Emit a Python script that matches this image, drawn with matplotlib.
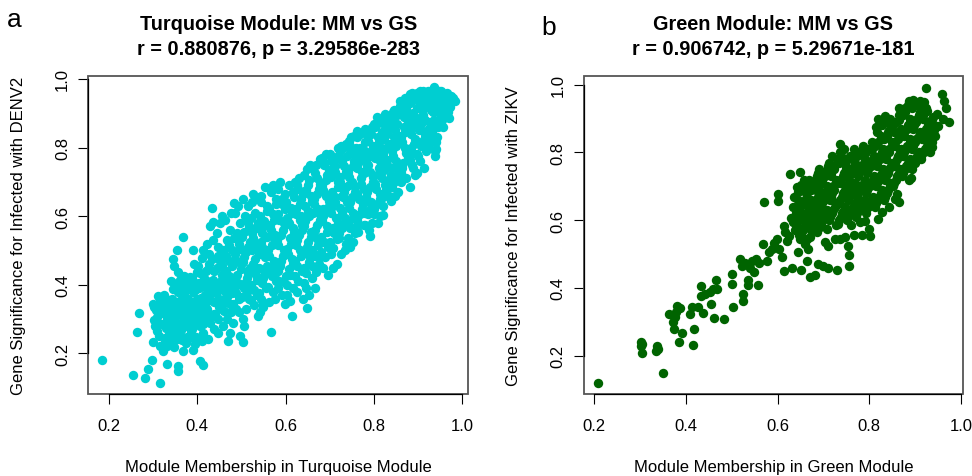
import matplotlib
matplotlib.use("Agg")
import matplotlib.pyplot as plt
from matplotlib.patches import Rectangle
import numpy as np

plt.rcParams['font.family'] = ['Liberation Sans', 'DejaVu Sans']

# module membership (x) vs gene significance (y)
turquoise_points = [
    (0.185, 0.182), (0.255, 0.138), (0.264, 0.262), (0.269, 0.318), (0.282, 0.128),
    (0.289, 0.155), (0.297, 0.182), (0.299, 0.234), (0.316, 0.114),
    (0.299, 0.344), (0.302, 0.334), (0.306, 0.327), (0.304, 0.281), (0.308, 0.305), (0.316, 0.359),
    (0.316, 0.222), (0.313, 0.252), (0.311, 0.290), (0.319, 0.338), (0.318, 0.317), (0.312, 0.367),
    (0.309, 0.265), (0.314, 0.345), (0.303, 0.298), (0.320, 0.285),
    (0.322, 0.334), (0.323, 0.208), (0.329, 0.360), (0.329, 0.273), (0.331, 0.169), (0.332, 0.222),
    (0.332, 0.302), (0.326, 0.245), (0.336, 0.330), (0.338, 0.287), (0.334, 0.352), (0.338, 0.238),
    (0.325, 0.370), (0.327, 0.318), (0.335, 0.262), (0.330, 0.345), (0.340, 0.315), (0.328, 0.232),
    (0.346, 0.388), (0.346, 0.475), (0.348, 0.456), (0.350, 0.310), (0.353, 0.290), (0.353, 0.242),
    (0.353, 0.349), (0.353, 0.500), (0.357, 0.164), (0.357, 0.148), (0.357, 0.378), (0.357, 0.436),
    (0.344, 0.335), (0.342, 0.270), (0.355, 0.265), (0.348, 0.220), (0.356, 0.320), (0.343, 0.360),
    (0.345, 0.298), (0.351, 0.328), (0.358, 0.345), (0.341, 0.410), (0.349, 0.255), (0.354, 0.405),
    (0.359, 0.285),
    (0.361, 0.330), (0.361, 0.252), (0.361, 0.397), (0.367, 0.206), (0.367, 0.540), (0.368, 0.276),
    (0.368, 0.359), (0.370, 0.426), (0.376, 0.388), (0.380, 0.281), (0.380, 0.339), (0.372, 0.300),
    (0.365, 0.310), (0.378, 0.360), (0.374, 0.230), (0.378, 0.405), (0.363, 0.355), (0.371, 0.375),
    (0.364, 0.268), (0.369, 0.290), (0.375, 0.320), (0.362, 0.415), (0.377, 0.248), (0.373, 0.345),
    (0.366, 0.240), (0.379, 0.300),
    (0.383, 0.422), (0.390, 0.210), (0.391, 0.378), (0.391, 0.502), (0.395, 0.227), (0.397, 0.247),
    (0.399, 0.436), (0.386, 0.320), (0.388, 0.295), (0.392, 0.350), (0.385, 0.265), (0.396, 0.405),
    (0.398, 0.330), (0.384, 0.395), (0.393, 0.460), (0.389, 0.270), (0.382, 0.350), (0.387, 0.308),
    (0.394, 0.285), (0.399, 0.360), (0.381, 0.245), (0.395, 0.312), (0.388, 0.420), (0.394, 0.385),
    (0.406, 0.179), (0.414, 0.167), (0.410, 0.477), (0.402, 0.456), (0.404, 0.300), (0.408, 0.345),
    (0.412, 0.260), (0.405, 0.390), (0.416, 0.420), (0.418, 0.370), (0.402, 0.320), (0.415, 0.310),
    (0.410, 0.235), (0.419, 0.440), (0.407, 0.280), (0.413, 0.500), (0.401, 0.345), (0.409, 0.362),
    (0.414, 0.285), (0.403, 0.405), (0.411, 0.325), (0.417, 0.395), (0.406, 0.435), (0.420, 0.350),
    (0.421, 0.520), (0.425, 0.242), (0.434, 0.624), (0.436, 0.582), (0.430, 0.570), (0.422, 0.330),
    (0.428, 0.290), (0.426, 0.460), (0.433, 0.400), (0.438, 0.350), (0.424, 0.380), (0.431, 0.310),
    (0.437, 0.270), (0.439, 0.440), (0.427, 0.490), (0.435, 0.530), (0.423, 0.410), (0.440, 0.380),
    (0.421, 0.300), (0.429, 0.355), (0.436, 0.415), (0.425, 0.445), (0.432, 0.375), (0.438, 0.315),
    (0.422, 0.360), (0.433, 0.475),
    (0.444, 0.550), (0.448, 0.510), (0.452, 0.470), (0.456, 0.430), (0.443, 0.400), (0.449, 0.360),
    (0.455, 0.330), (0.446, 0.300), (0.458, 0.280), (0.452, 0.390), (0.445, 0.450), (0.459, 0.500),
    (0.451, 0.580), (0.457, 0.600), (0.447, 0.260), (0.460, 0.360), (0.441, 0.315), (0.449, 0.335),
    (0.454, 0.410), (0.443, 0.375), (0.457, 0.455), (0.448, 0.485), (0.453, 0.345), (0.459, 0.385),
    (0.470, 0.236), (0.474, 0.260), (0.467, 0.300), (0.476, 0.320), (0.463, 0.350), (0.472, 0.380),
    (0.478, 0.410), (0.465, 0.440), (0.471, 0.470), (0.479, 0.500), (0.468, 0.530), (0.474, 0.560),
    (0.462, 0.590), (0.477, 0.610), (0.483, 0.638), (0.469, 0.400), (0.475, 0.345), (0.461, 0.325),
    (0.468, 0.365), (0.473, 0.425), (0.479, 0.455), (0.466, 0.485), (0.472, 0.515), (0.478, 0.375),
    (0.464, 0.410),
    (0.504, 0.234), (0.496, 0.250), (0.482, 0.290), (0.488, 0.330), (0.495, 0.360), (0.484, 0.390),
    (0.491, 0.430), (0.498, 0.460), (0.486, 0.490), (0.494, 0.520), (0.489, 0.550), (0.497, 0.580),
    (0.485, 0.610), (0.492, 0.630), (0.499, 0.400), (0.482, 0.460), (0.481, 0.345), (0.487, 0.375),
    (0.493, 0.405), (0.499, 0.445), (0.485, 0.475), (0.496, 0.505), (0.483, 0.535), (0.494, 0.320),
    (0.503, 0.300), (0.511, 0.330), (0.517, 0.360), (0.505, 0.390), (0.513, 0.420), (0.519, 0.450),
    (0.507, 0.480), (0.514, 0.510), (0.502, 0.540), (0.518, 0.570), (0.509, 0.600), (0.515, 0.630),
    (0.504, 0.650), (0.512, 0.380), (0.506, 0.280), (0.501, 0.365), (0.508, 0.405), (0.516, 0.435),
    (0.503, 0.465), (0.511, 0.495), (0.519, 0.525), (0.506, 0.555), (0.514, 0.585),
    (0.527, 0.665), (0.523, 0.640), (0.531, 0.610), (0.538, 0.580), (0.525, 0.550), (0.533, 0.520),
    (0.539, 0.490), (0.526, 0.460), (0.534, 0.430), (0.522, 0.400), (0.536, 0.370), (0.529, 0.340),
    (0.537, 0.310), (0.524, 0.500), (0.532, 0.655), (0.521, 0.355), (0.528, 0.385), (0.535, 0.415),
    (0.524, 0.445), (0.531, 0.475), (0.538, 0.505), (0.527, 0.535), (0.534, 0.565), (0.522, 0.595),
    (0.542, 0.320), (0.548, 0.334), (0.553, 0.684), (0.545, 0.660), (0.557, 0.630), (0.543, 0.600),
    (0.551, 0.570), (0.558, 0.540), (0.546, 0.510), (0.554, 0.480), (0.541, 0.450), (0.549, 0.420),
    (0.556, 0.390), (0.544, 0.360), (0.559, 0.455), (0.547, 0.550), (0.541, 0.375), (0.547, 0.405),
    (0.553, 0.435), (0.559, 0.495), (0.545, 0.525), (0.552, 0.585), (0.558, 0.615), (0.544, 0.640),
    (0.550, 0.345),
    (0.567, 0.261), (0.563, 0.350), (0.571, 0.380), (0.578, 0.410), (0.565, 0.440), (0.573, 0.470),
    (0.561, 0.500), (0.576, 0.530), (0.568, 0.560), (0.574, 0.590), (0.562, 0.620), (0.579, 0.650),
    (0.566, 0.670), (0.572, 0.690), (0.577, 0.360), (0.561, 0.395), (0.569, 0.425), (0.575, 0.455),
    (0.563, 0.485), (0.570, 0.515), (0.577, 0.545), (0.564, 0.575), (0.571, 0.605), (0.578, 0.635),
    (0.587, 0.700), (0.583, 0.680), (0.591, 0.650), (0.598, 0.620), (0.585, 0.590), (0.594, 0.560),
    (0.581, 0.530), (0.597, 0.500), (0.589, 0.470), (0.582, 0.440), (0.595, 0.410), (0.587, 0.407),
    (0.599, 0.344), (0.592, 0.370), (0.584, 0.390), (0.596, 0.580), (0.581, 0.415), (0.588, 0.455),
    (0.594, 0.485), (0.583, 0.515), (0.590, 0.545), (0.598, 0.575), (0.584, 0.605), (0.592, 0.635),
    (0.599, 0.665),
    (0.610, 0.354), (0.614, 0.310), (0.603, 0.400), (0.611, 0.430), (0.618, 0.460), (0.605, 0.490),
    (0.613, 0.520), (0.619, 0.550), (0.607, 0.580), (0.615, 0.610), (0.602, 0.640), (0.617, 0.670),
    (0.609, 0.690), (0.604, 0.370), (0.616, 0.390), (0.601, 0.425), (0.608, 0.445), (0.614, 0.475),
    (0.603, 0.505), (0.611, 0.535), (0.617, 0.565), (0.604, 0.595), (0.612, 0.625), (0.619, 0.655),
    (0.622, 0.700), (0.628, 0.680), (0.635, 0.650), (0.624, 0.620), (0.632, 0.590), (0.638, 0.560),
    (0.626, 0.530), (0.633, 0.500), (0.621, 0.470), (0.637, 0.440), (0.629, 0.410), (0.625, 0.380),
    (0.639, 0.360), (0.631, 0.710), (0.636, 0.600), (0.621, 0.425), (0.627, 0.455), (0.634, 0.485),
    (0.623, 0.515), (0.630, 0.545), (0.637, 0.575), (0.624, 0.605), (0.632, 0.635), (0.639, 0.665),
    (0.626, 0.690),
    (0.648, 0.333), (0.648, 0.738), (0.643, 0.720), (0.652, 0.690), (0.658, 0.660), (0.645, 0.630),
    (0.654, 0.600), (0.641, 0.570), (0.657, 0.540), (0.649, 0.510), (0.655, 0.480), (0.642, 0.450),
    (0.659, 0.420), (0.646, 0.390), (0.653, 0.370), (0.656, 0.750), (0.641, 0.405), (0.647, 0.435),
    (0.654, 0.465), (0.643, 0.495), (0.651, 0.525), (0.658, 0.555), (0.644, 0.585), (0.652, 0.615),
    (0.659, 0.645), (0.646, 0.675), (0.654, 0.705),
    (0.670, 0.436), (0.667, 0.392), (0.678, 0.480), (0.678, 0.767), (0.662, 0.740), (0.671, 0.710),
    (0.677, 0.680), (0.664, 0.650), (0.673, 0.620), (0.679, 0.590), (0.666, 0.560), (0.674, 0.530),
    (0.661, 0.500), (0.676, 0.460), (0.669, 0.750), (0.663, 0.610), (0.661, 0.455), (0.667, 0.485),
    (0.674, 0.515), (0.663, 0.545), (0.671, 0.575), (0.678, 0.605), (0.664, 0.635), (0.672, 0.665),
    (0.679, 0.695), (0.666, 0.725),
    (0.683, 0.770), (0.688, 0.750), (0.695, 0.720), (0.682, 0.690), (0.691, 0.660), (0.698, 0.630),
    (0.685, 0.600), (0.693, 0.570), (0.681, 0.540), (0.697, 0.510), (0.689, 0.480), (0.684, 0.450),
    (0.696, 0.430), (0.692, 0.780), (0.686, 0.620), (0.681, 0.495), (0.687, 0.525), (0.694, 0.555),
    (0.683, 0.585), (0.691, 0.615), (0.698, 0.645), (0.684, 0.675), (0.692, 0.705), (0.699, 0.735),
    (0.686, 0.760),
    (0.701, 0.781), (0.716, 0.460), (0.708, 0.506), (0.716, 0.533), (0.720, 0.800), (0.704, 0.760),
    (0.711, 0.730), (0.718, 0.700), (0.706, 0.670), (0.713, 0.640), (0.702, 0.610), (0.719, 0.580),
    (0.709, 0.550), (0.703, 0.490), (0.714, 0.770), (0.707, 0.450), (0.701, 0.525), (0.707, 0.565),
    (0.714, 0.595), (0.703, 0.625), (0.711, 0.655), (0.718, 0.685), (0.704, 0.715), (0.712, 0.745),
    (0.719, 0.775),
    (0.738, 0.810), (0.723, 0.790), (0.729, 0.760), (0.736, 0.730), (0.724, 0.700), (0.733, 0.670),
    (0.739, 0.640), (0.727, 0.610), (0.734, 0.580), (0.721, 0.550), (0.737, 0.520), (0.726, 0.490),
    (0.731, 0.800), (0.728, 0.660), (0.735, 0.500), (0.721, 0.535), (0.727, 0.565), (0.734, 0.595),
    (0.723, 0.625), (0.731, 0.655), (0.738, 0.685), (0.724, 0.715), (0.732, 0.745), (0.739, 0.775),
    (0.726, 0.805),
    (0.746, 0.509), (0.753, 0.524), (0.761, 0.849), (0.743, 0.820), (0.749, 0.790), (0.756, 0.760),
    (0.742, 0.730), (0.751, 0.700), (0.758, 0.670), (0.745, 0.640), (0.754, 0.610), (0.741, 0.580),
    (0.757, 0.550), (0.748, 0.830), (0.744, 0.690), (0.759, 0.800), (0.741, 0.535), (0.747, 0.565),
    (0.754, 0.595), (0.743, 0.625), (0.751, 0.655), (0.758, 0.685), (0.744, 0.715), (0.752, 0.745),
    (0.759, 0.775), (0.746, 0.805), (0.755, 0.835),
    (0.765, 0.555), (0.780, 0.854), (0.763, 0.830), (0.769, 0.800), (0.776, 0.770), (0.762, 0.740),
    (0.771, 0.710), (0.778, 0.680), (0.766, 0.650), (0.774, 0.620), (0.761, 0.590), (0.777, 0.575),
    (0.768, 0.840), (0.773, 0.730), (0.779, 0.790), (0.763, 0.575), (0.769, 0.605), (0.776, 0.635),
    (0.763, 0.665), (0.771, 0.695), (0.777, 0.725), (0.764, 0.755), (0.772, 0.785), (0.779, 0.815),
    (0.766, 0.840),
    (0.791, 0.543), (0.800, 0.869), (0.783, 0.850), (0.788, 0.820), (0.795, 0.790), (0.782, 0.760),
    (0.791, 0.730), (0.798, 0.700), (0.785, 0.670), (0.793, 0.640), (0.781, 0.610), (0.797, 0.580),
    (0.789, 0.560), (0.794, 0.840), (0.786, 0.750), (0.781, 0.575), (0.787, 0.605), (0.794, 0.625),
    (0.783, 0.655), (0.791, 0.685), (0.798, 0.715), (0.784, 0.745), (0.792, 0.775), (0.799, 0.805),
    (0.786, 0.835), (0.795, 0.860),
    (0.814, 0.600), (0.803, 0.860), (0.809, 0.830), (0.816, 0.800), (0.802, 0.770), (0.811, 0.740),
    (0.818, 0.710), (0.805, 0.680), (0.813, 0.650), (0.801, 0.620), (0.819, 0.880), (0.807, 0.890),
    (0.815, 0.760), (0.810, 0.580), (0.801, 0.605), (0.807, 0.635), (0.814, 0.665), (0.803, 0.695),
    (0.811, 0.725), (0.818, 0.755), (0.804, 0.785), (0.812, 0.815), (0.819, 0.845), (0.806, 0.865),
    (0.825, 0.898), (0.820, 0.603), (0.840, 0.645), (0.823, 0.870), (0.829, 0.840), (0.836, 0.810),
    (0.822, 0.780), (0.831, 0.750), (0.838, 0.720), (0.826, 0.690), (0.834, 0.660), (0.821, 0.630),
    (0.837, 0.890), (0.828, 0.800), (0.833, 0.865), (0.821, 0.655), (0.827, 0.675), (0.834, 0.705),
    (0.823, 0.735), (0.831, 0.765), (0.838, 0.795), (0.824, 0.825), (0.832, 0.855), (0.839, 0.875),
    (0.826, 0.885),
    (0.844, 0.903), (0.859, 0.937), (0.843, 0.880), (0.849, 0.850), (0.856, 0.820), (0.842, 0.790),
    (0.851, 0.760), (0.858, 0.730), (0.845, 0.700), (0.854, 0.670), (0.848, 0.660), (0.857, 0.910),
    (0.846, 0.830), (0.853, 0.870), (0.841, 0.740), (0.841, 0.685), (0.847, 0.715), (0.854, 0.745),
    (0.843, 0.775), (0.851, 0.805), (0.858, 0.835), (0.844, 0.865), (0.852, 0.895), (0.859, 0.920),
    (0.846, 0.910),
    (0.882, 0.956), (0.882, 0.686), (0.871, 0.944), (0.863, 0.920), (0.869, 0.890), (0.876, 0.860),
    (0.862, 0.830), (0.871, 0.800), (0.878, 0.770), (0.865, 0.740), (0.874, 0.710), (0.861, 0.700),
    (0.877, 0.900), (0.868, 0.860), (0.873, 0.930), (0.861, 0.725), (0.867, 0.755), (0.874, 0.785),
    (0.863, 0.815), (0.871, 0.845), (0.878, 0.875), (0.864, 0.905), (0.872, 0.915), (0.879, 0.940),
    (0.866, 0.930),
    (0.897, 0.726), (0.904, 0.966), (0.883, 0.930), (0.889, 0.900), (0.896, 0.870), (0.884, 0.840),
    (0.891, 0.810), (0.898, 0.780), (0.886, 0.750), (0.893, 0.720), (0.887, 0.960), (0.899, 0.940),
    (0.885, 0.800), (0.894, 0.890), (0.881, 0.765), (0.887, 0.785), (0.894, 0.825), (0.883, 0.855),
    (0.891, 0.885), (0.898, 0.915), (0.884, 0.945), (0.892, 0.950), (0.899, 0.960), (0.889, 0.740),
    (0.912, 0.964), (0.903, 0.940), (0.909, 0.910), (0.916, 0.880), (0.902, 0.850), (0.911, 0.820),
    (0.918, 0.790), (0.905, 0.760), (0.913, 0.740), (0.919, 0.930), (0.907, 0.870), (0.915, 0.830),
    (0.901, 0.775), (0.907, 0.805), (0.914, 0.845), (0.903, 0.875), (0.911, 0.895), (0.918, 0.955),
    (0.904, 0.920), (0.912, 0.945), (0.919, 0.810),
    (0.924, 0.966), (0.937, 0.976), (0.938, 0.775), (0.923, 0.940), (0.929, 0.910), (0.936, 0.880),
    (0.922, 0.850), (0.931, 0.820), (0.938, 0.790), (0.926, 0.800), (0.934, 0.930), (0.928, 0.860),
    (0.921, 0.835), (0.927, 0.875), (0.934, 0.905), (0.923, 0.925), (0.931, 0.955), (0.938, 0.945),
    (0.924, 0.810), (0.932, 0.845), (0.939, 0.865),
    (0.942, 0.796), (0.946, 0.859), (0.950, 0.898), (0.948, 0.966), (0.961, 0.953), (0.943, 0.830),
    (0.955, 0.880), (0.944, 0.920), (0.952, 0.940), (0.958, 0.860), (0.947, 0.950), (0.941, 0.815),
    (0.947, 0.875), (0.954, 0.905), (0.943, 0.935), (0.951, 0.925), (0.957, 0.945), (0.944, 0.960),
    (0.953, 0.965),
    (0.965, 0.946), (0.972, 0.917), (0.984, 0.937), (0.975, 0.950), (0.968, 0.925), (0.963, 0.900),
    (0.970, 0.885), (0.973, 0.935), (0.979, 0.945), (0.966, 0.960), (0.962, 0.915), (0.968, 0.905),
]

green_points = [
    (0.208, 0.119), (0.351, 0.149), (0.303, 0.240), (0.301, 0.228), (0.305, 0.235), (0.305, 0.207),
    (0.336, 0.230), (0.338, 0.220), (0.335, 0.215), (0.385, 0.241), (0.416, 0.231), (0.418, 0.279),
    (0.362, 0.323), (0.372, 0.300), (0.373, 0.280), (0.376, 0.313), (0.380, 0.347), (0.387, 0.342),
    (0.378, 0.330), (0.392, 0.267), (0.409, 0.323), (0.413, 0.343), (0.427, 0.345), (0.437, 0.326),
    (0.454, 0.352), (0.433, 0.406), (0.433, 0.377), (0.442, 0.382), (0.453, 0.387), (0.460, 0.397),
    (0.466, 0.424), (0.467, 0.397), (0.461, 0.310), (0.483, 0.308), (0.502, 0.343), (0.500, 0.441),
    (0.501, 0.411), (0.524, 0.362), (0.525, 0.382), (0.518, 0.485), (0.522, 0.466), (0.529, 0.475),
    (0.535, 0.424), (0.536, 0.410), (0.540, 0.460), (0.544, 0.480), (0.549, 0.446), (0.554, 0.485),
    (0.560, 0.474), (0.558, 0.410), (0.568, 0.530), (0.571, 0.653), (0.576, 0.480), (0.581, 0.505),
    (0.587, 0.514), (0.592, 0.534), (0.598, 0.544), (0.604, 0.514), (0.609, 0.490), (0.600, 0.677),
    (0.602, 0.657), (0.613, 0.584), (0.616, 0.564), (0.620, 0.540), (0.624, 0.553), (0.627, 0.736),
    (0.629, 0.608), (0.615, 0.449), (0.631, 0.458),
    (0.633, 0.595), (0.637, 0.570), (0.642, 0.697), (0.645, 0.682), (0.648, 0.643), (0.641, 0.620),
    (0.646, 0.555), (0.649, 0.741), (0.638, 0.610), (0.644, 0.660), (0.634, 0.640), (0.640, 0.585),
    (0.647, 0.600), (0.636, 0.670),
    (0.649, 0.544), (0.660, 0.530), (0.667, 0.515), (0.645, 0.505),
    (0.652, 0.560), (0.657, 0.580), (0.661, 0.600), (0.654, 0.620), (0.666, 0.640), (0.659, 0.660),
    (0.663, 0.680), (0.655, 0.700), (0.668, 0.720), (0.651, 0.705), (0.664, 0.545), (0.669, 0.610),
    (0.655, 0.570), (0.661, 0.590), (0.668, 0.630), (0.657, 0.650), (0.664, 0.670), (0.652, 0.690),
    (0.669, 0.700), (0.658, 0.720),
    (0.672, 0.570), (0.678, 0.590), (0.684, 0.610), (0.675, 0.630), (0.681, 0.650), (0.688, 0.670),
    (0.673, 0.690), (0.679, 0.710), (0.686, 0.730), (0.685, 0.566), (0.671, 0.550), (0.683, 0.690),
    (0.674, 0.580), (0.681, 0.600), (0.688, 0.620), (0.676, 0.640), (0.683, 0.660), (0.690, 0.700),
    (0.677, 0.700), (0.684, 0.720), (0.689, 0.740), (0.672, 0.660),
    (0.651, 0.453), (0.664, 0.480), (0.671, 0.431), (0.682, 0.438), (0.689, 0.471), (0.700, 0.464),
    (0.711, 0.458), (0.729, 0.453), (0.704, 0.536), (0.711, 0.524),
    (0.725, 0.544), (0.736, 0.544), (0.747, 0.549), (0.766, 0.556), (0.784, 0.556), (0.802, 0.554),
    (0.753, 0.524), (0.757, 0.497), (0.757, 0.466),
    (0.692, 0.580), (0.698, 0.600), (0.705, 0.620), (0.694, 0.640), (0.701, 0.660), (0.708, 0.700),
    (0.696, 0.720), (0.703, 0.740), (0.709, 0.760), (0.691, 0.750), (0.707, 0.575), (0.699, 0.680),
    (0.694, 0.590), (0.701, 0.610), (0.708, 0.630), (0.696, 0.650), (0.703, 0.670), (0.710, 0.690),
    (0.697, 0.710), (0.704, 0.730), (0.709, 0.750), (0.693, 0.630),
    (0.712, 0.600), (0.718, 0.620), (0.725, 0.640), (0.714, 0.660), (0.721, 0.700), (0.728, 0.720),
    (0.716, 0.740), (0.723, 0.760), (0.729, 0.780), (0.713, 0.770), (0.727, 0.585), (0.719, 0.680),
    (0.714, 0.610), (0.721, 0.630), (0.728, 0.650), (0.716, 0.670), (0.723, 0.690), (0.730, 0.710),
    (0.717, 0.730), (0.724, 0.750), (0.730, 0.770), (0.719, 0.790),
    (0.732, 0.590), (0.738, 0.610), (0.745, 0.630), (0.734, 0.650), (0.741, 0.670), (0.748, 0.690),
    (0.736, 0.710), (0.743, 0.730), (0.749, 0.750), (0.733, 0.770), (0.736, 0.800), (0.736, 0.825),
    (0.744, 0.780), (0.734, 0.600), (0.741, 0.620), (0.748, 0.640), (0.736, 0.660), (0.743, 0.680),
    (0.750, 0.700), (0.737, 0.720), (0.744, 0.740), (0.750, 0.760), (0.739, 0.790), (0.746, 0.810),
    (0.752, 0.600), (0.758, 0.620), (0.765, 0.640), (0.754, 0.660), (0.761, 0.680), (0.768, 0.700),
    (0.756, 0.720), (0.763, 0.740), (0.769, 0.760), (0.753, 0.780), (0.766, 0.790), (0.760, 0.585),
    (0.754, 0.610), (0.761, 0.630), (0.768, 0.650), (0.756, 0.670), (0.763, 0.690), (0.770, 0.710),
    (0.757, 0.730), (0.764, 0.750), (0.770, 0.770), (0.759, 0.790), (0.766, 0.810),
    (0.772, 0.610), (0.778, 0.630), (0.785, 0.650), (0.774, 0.670), (0.781, 0.690), (0.788, 0.710),
    (0.776, 0.730), (0.783, 0.750), (0.789, 0.770), (0.773, 0.790), (0.786, 0.800), (0.779, 0.595),
    (0.774, 0.620), (0.781, 0.640), (0.788, 0.660), (0.776, 0.680), (0.783, 0.700), (0.790, 0.720),
    (0.777, 0.740), (0.784, 0.760), (0.790, 0.780), (0.779, 0.800), (0.786, 0.820),
    (0.791, 0.598), (0.792, 0.620), (0.798, 0.640), (0.805, 0.660), (0.794, 0.680), (0.801, 0.700),
    (0.808, 0.720), (0.796, 0.740), (0.803, 0.760), (0.809, 0.780), (0.793, 0.800), (0.806, 0.810),
    (0.800, 0.575), (0.794, 0.630), (0.801, 0.650), (0.808, 0.670), (0.796, 0.690), (0.803, 0.710),
    (0.810, 0.730), (0.797, 0.750), (0.804, 0.770), (0.810, 0.790), (0.799, 0.810), (0.806, 0.830),
    (0.820, 0.603), (0.827, 0.623), (0.812, 0.640), (0.818, 0.660), (0.825, 0.680), (0.814, 0.700),
    (0.821, 0.720), (0.828, 0.740), (0.816, 0.760), (0.823, 0.780), (0.829, 0.800), (0.813, 0.820),
    (0.820, 0.899), (0.826, 0.840), (0.817, 0.860), (0.814, 0.650), (0.821, 0.670), (0.828, 0.690),
    (0.816, 0.710), (0.823, 0.730), (0.830, 0.750), (0.817, 0.770), (0.824, 0.790), (0.830, 0.810),
    (0.819, 0.830), (0.826, 0.850), (0.815, 0.875), (0.828, 0.880),
    (0.835, 0.908), (0.846, 0.900), (0.832, 0.660), (0.838, 0.680), (0.845, 0.700), (0.834, 0.720),
    (0.841, 0.740), (0.848, 0.760), (0.836, 0.780), (0.843, 0.800), (0.849, 0.820), (0.833, 0.840),
    (0.840, 0.860), (0.847, 0.880), (0.844, 0.640), (0.834, 0.670), (0.841, 0.690), (0.848, 0.710),
    (0.836, 0.730), (0.843, 0.750), (0.850, 0.770), (0.837, 0.790), (0.844, 0.810), (0.850, 0.830),
    (0.839, 0.850), (0.846, 0.870), (0.833, 0.890),
    (0.860, 0.677), (0.856, 0.662), (0.864, 0.653), (0.864, 0.930), (0.852, 0.700), (0.858, 0.720),
    (0.865, 0.740), (0.854, 0.760), (0.861, 0.780), (0.868, 0.800), (0.856, 0.820), (0.863, 0.840),
    (0.869, 0.860), (0.853, 0.880), (0.866, 0.895), (0.854, 0.710), (0.861, 0.730), (0.868, 0.750),
    (0.856, 0.770), (0.863, 0.790), (0.870, 0.810), (0.857, 0.830), (0.864, 0.850), (0.870, 0.870),
    (0.859, 0.890), (0.866, 0.910), (0.855, 0.860),
    (0.886, 0.953), (0.872, 0.730), (0.878, 0.750), (0.885, 0.770), (0.874, 0.790), (0.881, 0.810),
    (0.888, 0.830), (0.876, 0.850), (0.883, 0.870), (0.889, 0.890), (0.873, 0.910), (0.879, 0.930),
    (0.887, 0.720), (0.874, 0.740), (0.881, 0.760), (0.888, 0.780), (0.876, 0.800), (0.883, 0.820),
    (0.890, 0.840), (0.877, 0.860), (0.884, 0.880), (0.890, 0.900), (0.879, 0.920), (0.885, 0.940),
    (0.891, 0.726), (0.896, 0.956), (0.893, 0.750), (0.899, 0.770), (0.905, 0.790), (0.894, 0.810),
    (0.901, 0.830), (0.908, 0.850), (0.896, 0.870), (0.903, 0.890), (0.909, 0.910), (0.893, 0.930),
    (0.906, 0.940), (0.894, 0.760), (0.901, 0.780), (0.908, 0.800), (0.896, 0.820), (0.903, 0.840),
    (0.910, 0.860), (0.897, 0.880), (0.904, 0.900), (0.910, 0.920), (0.899, 0.945),
    (0.911, 0.953), (0.918, 0.943), (0.927, 0.923), (0.924, 0.990), (0.913, 0.780), (0.919, 0.800),
    (0.926, 0.820), (0.915, 0.840), (0.922, 0.860), (0.929, 0.880), (0.917, 0.900), (0.929, 0.825),
    (0.914, 0.920), (0.914, 0.790), (0.921, 0.810), (0.928, 0.840), (0.916, 0.850), (0.923, 0.870),
    (0.930, 0.890), (0.917, 0.910), (0.924, 0.930), (0.920, 0.950),
    (0.933, 0.840), (0.937, 0.815), (0.947, 0.913), (0.951, 0.879), (0.935, 0.860), (0.941, 0.880),
    (0.944, 0.850), (0.938, 0.900), (0.932, 0.800), (0.936, 0.830), (0.942, 0.865), (0.934, 0.880),
    (0.940, 0.905),
    (0.958, 0.972), (0.963, 0.953), (0.968, 0.930), (0.975, 0.891), (0.960, 0.900),
]

turq_mm, turq_gs = np.array(turquoise_points).T
green_mm, green_gs = np.array(green_points).T

ticks = [0.2, 0.4, 0.6, 0.8, 1.0]
tick_labels = ["0.2", "0.4", "0.6", "0.8", "1.0"]


def draw_panel(ax, mm, gs, color, xlim, ylim, title, stats, xlabel, ylabel):
    ax.scatter(mm, gs, s=46, c=color, linewidths=0, zorder=1)
    ax.set_xlim(xlim)
    ax.set_ylim(ylim)
    ax.set_xticks(ticks)
    ax.set_xticklabels(tick_labels)
    ax.set_yticks(ticks)
    ax.set_yticklabels(tick_labels, rotation=90, va="center")

    ax.spines["top"].set_visible(False)
    ax.spines["right"].set_visible(False)
    for side in ["left", "bottom"]:
        ax.spines[side].set_bounds(0.2, 1.0)
        ax.spines[side].set_color("black")
        ax.spines[side].set_linewidth(0.9)
        ax.spines[side].set_zorder(4)
    box = Rectangle((0, 0), 1, 1, transform=ax.transAxes, fill=False,
                    edgecolor="#555555", linewidth=1.3, clip_on=False, zorder=3)
    ax.add_patch(box)

    ax.tick_params(direction="out", length=7.2, width=0.8, labelsize=12)
    ax.tick_params(axis="x", pad=10)
    ax.tick_params(axis="y", pad=6)

    ax.set_xlabel(xlabel, fontsize=12)
    ax.set_ylabel(ylabel, fontsize=12)
    ax.xaxis.set_label_coords(0.5, -0.205)
    ax.yaxis.set_label_coords(-0.165, 0.5)

    ax.text(0.5, 1.147, title, transform=ax.transAxes, ha="center", va="baseline",
            fontsize=14.3, fontweight="bold")
    ax.text(0.5, 1.068, stats, transform=ax.transAxes, ha="center", va="baseline",
            fontsize=14.3, fontweight="bold")


fig = plt.figure(figsize=(9.72, 4.77), dpi=100)
ax_a = fig.add_axes([0.0908, 0.1719, 0.3909, 0.6673])
ax_b = fig.add_axes([0.6008, 0.1719, 0.3896, 0.6673])

draw_panel(ax_a, turq_mm, turq_gs, "#00CED1", (0.153, 1.014), (0.0816, 1.0096),
           "Turquoise Module: MM vs GS", "r = 0.880876, p = 3.29586e-283",
           "Module Membership in Turquoise Module",
           "Gene Significance for Infected with DENV2")
draw_panel(ax_b, green_mm, green_gs, "#006400", (0.1775, 1.004), (0.087, 1.0266),
           "Green Module: MM vs GS", "r = 0.906742, p = 5.29671e-181",
           "Module Membership in Green Module",
           "Gene Significance for Infected with ZIKV")

fig.text(7 / 972, 1 - 27 / 477, "a", fontsize=19, ha="left", va="baseline")
fig.text(541 / 972, 1 - 35 / 477, "b", fontsize=19, ha="left", va="baseline")

fig.savefig("out.png", dpi=100)
